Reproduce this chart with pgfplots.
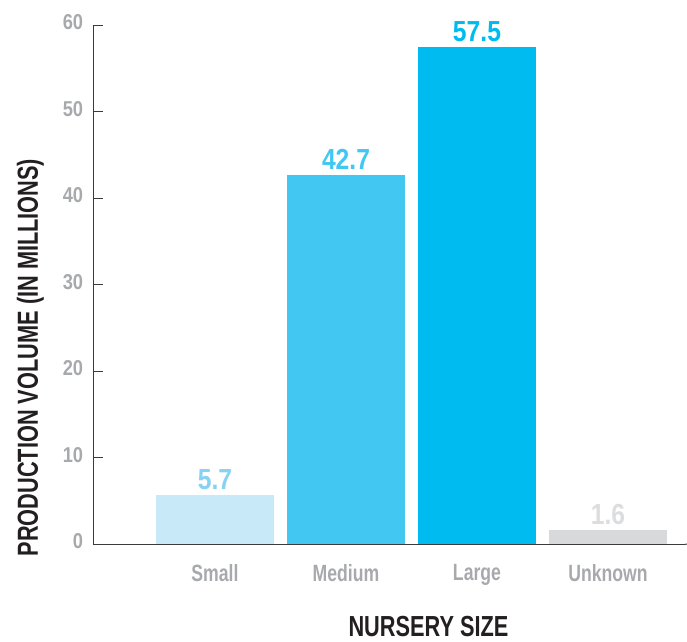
\documentclass[border=0pt]{standalone}
\usepackage{pgfplots}
\pgfplotsset{compat=1.18}
\usepackage{fontspec}
\setmainfont{Liberation Sans}
\newfontfamily\condfont[FakeStretch=0.75]{Liberation Sans}
\newfontfamily\numfont[FakeStretch=0.85]{Liberation Sans}
\definecolor{cSmall}{HTML}{C8E9F8}
\definecolor{lSmall}{HTML}{86D2F2}
\definecolor{cMed}{HTML}{42C7F3}
\definecolor{cLarge}{HTML}{00BBF0}
\definecolor{cUnk}{HTML}{D8D9DB}
\definecolor{lUnk}{HTML}{DCDDDF}
\definecolor{tickgray}{HTML}{A7A9AC}
\definecolor{axisdark}{HTML}{3A3A3A}
\definecolor{titledark}{HTML}{231F20}
\begin{document}
\begin{tikzpicture}
\begin{axis}[
  name=ax,
  scale only axis,
  width=591.7pt, height=519pt,
  xmin=-0.929, xmax=3.588,
  ymin=0, ymax=60,
  axis x line=bottom, axis y line=left,
  axis line style={-, draw=axisdark, line width=1.3pt},
  ytick={0,10,20,30,40,50,60},
  tick align=inside,
  major tick length=10pt,
  ytick style={draw=axisdark, line width=1pt},
  xtick={0,1,2,3},
  xticklabels={Small,Medium,Large,Unknown},
  xtick style={draw=none},
  /pgf/number format/assume math mode=true,
  yticklabel style={font=\numfont\bfseries\fontsize{21.5}{24}\selectfont, text=tickgray, inner sep=0pt, xshift=-10pt, yshift=3pt},
  xticklabel style={font=\condfont\bfseries\fontsize{23.5}{26}\selectfont, text=tickgray, anchor=north, inner sep=0pt, yshift=-20pt},
  xlabel={NURSERY SIZE},
  xlabel style={at={(axis description cs:0.5665,-0.138)}, anchor=north, inner sep=0pt, font=\condfont\bfseries\fontsize{29}{32}\selectfont, text=titledark},
  ylabel={PRODUCTION VOLUME (IN MILLIONS)},
  ylabel style={at={(axis description cs:-0.1065,0.3599)}, anchor=center, inner sep=0pt, font=\condfont\bfseries\fontsize{29}{32}\selectfont, text=titledark},
  nodes near coords,
  nodes near coords style={font=\numfont\bfseries\fontsize{29}{32}\selectfont, anchor=south, inner sep=0pt, yshift=5pt},
  clip=false,
]
\addplot[ybar, bar width=118pt, bar shift=0pt, fill=cSmall, draw=none, nodes near coords style={text=lSmall}] coordinates {(0,5.7)};
\addplot[ybar, bar width=118pt, bar shift=0pt, fill=cMed, draw=none, nodes near coords style={text=cMed}] coordinates {(1,42.7)};
\addplot[ybar, bar width=118pt, bar shift=0pt, fill=cLarge, draw=none, nodes near coords style={text=cLarge}] coordinates {(2,57.5)};
\addplot[ybar, bar width=118pt, bar shift=0pt, fill=cUnk, draw=none, nodes near coords style={text=lUnk}] coordinates {(3,1.6)};
\draw[axisdark, line width=1pt] (rel axis cs:1,0) -- ++(0,12pt);
\end{axis}
\pgfresetboundingbox
\path ([shift={(-93.3pt,-96.7pt)}]ax.south west) rectangle ([shift={(593.7pt,544.3pt)}]ax.south west);
\end{tikzpicture}
\end{document}
